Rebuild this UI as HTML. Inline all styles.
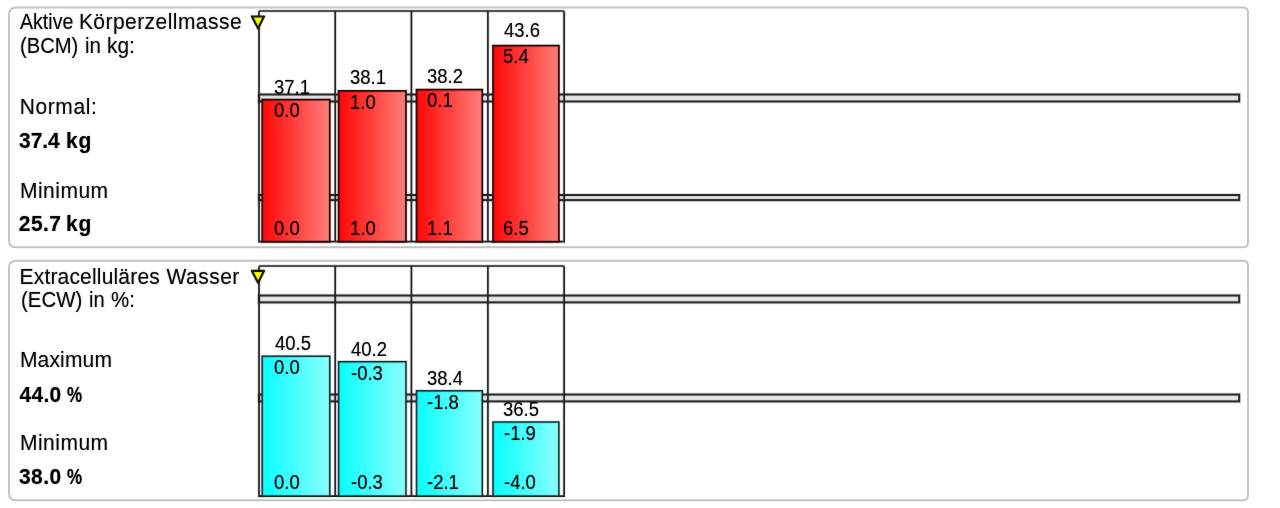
<!DOCTYPE html>
<html>
<head>
<meta charset="utf-8">
<title>BCM / ECW</title>
<style>
html,body{margin:0;padding:0;background:#fff;}
body{width:1280px;height:508px;position:relative;overflow:hidden;font-family:"Liberation Sans",sans-serif;color:#000;}
.abs{position:absolute;}
#tx{position:absolute;left:0;top:0;width:1280px;height:508px;will-change:transform;}
.t{text-shadow:0 0 1.5px rgba(0,0,0,.45);position:absolute;font-size:21px;line-height:21px;white-space:nowrap;color:#0a0a0a;transform-origin:0 0;}
.b{font-weight:bold;color:#000;}
.v{text-shadow:0 0 1.5px rgba(0,0,0,.45);position:absolute;font-size:19px;line-height:19px;white-space:nowrap;color:#080808;transform-origin:0 0;}
</style>
</head>
<body>
<svg class="abs" style="left:0;top:0;" width="1280" height="508" viewBox="0 0 1280 508">
<defs><linearGradient id="gr" x1="0" x2="1" y1="0" y2="0"><stop offset="0" stop-color="#ff0606"/><stop offset="1" stop-color="#ff7e78"/></linearGradient><linearGradient id="gc" x1="0" x2="1" y1="0" y2="0"><stop offset="0" stop-color="#06fffe"/><stop offset="1" stop-color="#8afffd"/></linearGradient></defs>
<path d="M16.0 7.5 L1243.0 7.5 Q1248.0 7.5 1248.0 12.5 L1248.0 242.2 Q1248.0 247.2 1243.0 247.2 L16.0 247.2 Q9.0 247.2 9.0 240.2 L9.0 14.5 Q9.0 7.5 16.0 7.5 Z" fill="#fff" stroke="#c4c4c4" stroke-width="1.9"/>
<path d="M16.0 260.7 L1243.0 260.7 Q1248.0 260.7 1248.0 265.7 L1248.0 495.3 Q1248.0 500.3 1243.0 500.3 L16.0 500.3 Q9.0 500.3 9.0 493.3 L9.0 267.7 Q9.0 260.7 16.0 260.7 Z" fill="#fff" stroke="#c4c4c4" stroke-width="1.9"/>
<rect x="259" y="94.5" width="980.2" height="7.0" fill="#e7e7e7" stroke="#000" stroke-opacity="0.13" stroke-width="3.8"/>
<rect x="259" y="94.5" width="980.2" height="7.0" fill="none" stroke="#2c2c2c" stroke-width="2.0"/>
<rect x="259" y="195.0" width="980.2" height="5.1" fill="#e7e7e7" stroke="#000" stroke-opacity="0.13" stroke-width="3.8"/>
<rect x="259" y="195.0" width="980.2" height="5.1" fill="none" stroke="#2c2c2c" stroke-width="2.0"/>
<path d="M259.0 241.7 L259.0 12.2 Q259.0 11.0 260.2 11.0 L562.9 11.0 Q564.1 11.0 564.1 12.2 L564.1 241.7 Z" fill="none" stroke="#000" stroke-opacity="0.13" stroke-width="3.5"/>
<path d="M259.0 241.7 L259.0 12.2 Q259.0 11.0 260.2 11.0 L562.9 11.0 Q564.1 11.0 564.1 12.2 L564.1 241.7 Z" fill="none" stroke="#262626" stroke-width="1.7"/>
<line x1="335.2" y1="11.0" x2="335.2" y2="241.7" fill="none" stroke="#000" stroke-opacity="0.13" stroke-width="3.5"/>
<line x1="335.2" y1="11.0" x2="335.2" y2="241.7" fill="none" stroke="#262626" stroke-width="1.7"/>
<line x1="411.4" y1="11.0" x2="411.4" y2="241.7" fill="none" stroke="#000" stroke-opacity="0.13" stroke-width="3.5"/>
<line x1="411.4" y1="11.0" x2="411.4" y2="241.7" fill="none" stroke="#262626" stroke-width="1.7"/>
<line x1="487.9" y1="11.0" x2="487.9" y2="241.7" fill="none" stroke="#000" stroke-opacity="0.13" stroke-width="3.5"/>
<line x1="487.9" y1="11.0" x2="487.9" y2="241.7" fill="none" stroke="#262626" stroke-width="1.7"/>
<rect x="262.2" y="99.6" width="67.6" height="142.1" fill="url(#gr)" stroke="#000" stroke-opacity="0.13" stroke-width="3.45"/>
<rect x="262.2" y="99.6" width="67.6" height="142.1" fill="none" stroke="#2a0202" stroke-width="1.65"/>
<rect x="338.6" y="90.9" width="67.4" height="150.8" fill="url(#gr)" stroke="#000" stroke-opacity="0.13" stroke-width="3.45"/>
<rect x="338.6" y="90.9" width="67.4" height="150.8" fill="none" stroke="#2a0202" stroke-width="1.65"/>
<rect x="416.5" y="89.6" width="65.8" height="152.1" fill="url(#gr)" stroke="#000" stroke-opacity="0.13" stroke-width="3.45"/>
<rect x="416.5" y="89.6" width="65.8" height="152.1" fill="none" stroke="#2a0202" stroke-width="1.65"/>
<rect x="493.0" y="45.6" width="65.9" height="196.1" fill="url(#gr)" stroke="#000" stroke-opacity="0.13" stroke-width="3.45"/>
<rect x="493.0" y="45.6" width="65.9" height="196.1" fill="none" stroke="#2a0202" stroke-width="1.65"/>
<path d="M251.9 16.5 L264.0 16.5 L258.1 28.4 Z" stroke-linejoin="round" fill="#ffff00" stroke="#000" stroke-opacity="0.13" stroke-width="3.9000000000000004"/>
<path d="M251.9 16.5 L264.0 16.5 L258.1 28.4 Z" stroke-linejoin="round" fill="none" stroke="#1c1c00" stroke-width="2.1"/>
<rect x="259" y="295.5" width="980.2" height="6.9" fill="#e7e7e7" stroke="#000" stroke-opacity="0.13" stroke-width="3.8"/>
<rect x="259" y="295.5" width="980.2" height="6.9" fill="none" stroke="#2c2c2c" stroke-width="2.0"/>
<rect x="259" y="394.5" width="980.2" height="6.9" fill="#e7e7e7" stroke="#000" stroke-opacity="0.13" stroke-width="3.8"/>
<rect x="259" y="394.5" width="980.2" height="6.9" fill="none" stroke="#2c2c2c" stroke-width="2.0"/>
<path d="M259.0 496.1 L259.0 267.2 Q259.0 266.0 260.2 266.0 L562.9 266.0 Q564.1 266.0 564.1 267.2 L564.1 496.1 Z" fill="none" stroke="#000" stroke-opacity="0.13" stroke-width="3.5"/>
<path d="M259.0 496.1 L259.0 267.2 Q259.0 266.0 260.2 266.0 L562.9 266.0 Q564.1 266.0 564.1 267.2 L564.1 496.1 Z" fill="none" stroke="#262626" stroke-width="1.7"/>
<line x1="335.2" y1="266.0" x2="335.2" y2="496.1" fill="none" stroke="#000" stroke-opacity="0.13" stroke-width="3.5"/>
<line x1="335.2" y1="266.0" x2="335.2" y2="496.1" fill="none" stroke="#262626" stroke-width="1.7"/>
<line x1="411.4" y1="266.0" x2="411.4" y2="496.1" fill="none" stroke="#000" stroke-opacity="0.13" stroke-width="3.5"/>
<line x1="411.4" y1="266.0" x2="411.4" y2="496.1" fill="none" stroke="#262626" stroke-width="1.7"/>
<line x1="487.9" y1="266.0" x2="487.9" y2="496.1" fill="none" stroke="#000" stroke-opacity="0.13" stroke-width="3.5"/>
<line x1="487.9" y1="266.0" x2="487.9" y2="496.1" fill="none" stroke="#262626" stroke-width="1.7"/>
<rect x="262.2" y="356.2" width="67.6" height="139.9" fill="url(#gc)" stroke="#000" stroke-opacity="0.13" stroke-width="3.3"/>
<rect x="262.2" y="356.2" width="67.6" height="139.9" fill="none" stroke="#0c3232" stroke-width="1.5"/>
<rect x="338.6" y="361.7" width="67.4" height="134.4" fill="url(#gc)" stroke="#000" stroke-opacity="0.13" stroke-width="3.3"/>
<rect x="338.6" y="361.7" width="67.4" height="134.4" fill="none" stroke="#0c3232" stroke-width="1.5"/>
<rect x="416.5" y="390.8" width="65.8" height="105.3" fill="url(#gc)" stroke="#000" stroke-opacity="0.13" stroke-width="3.3"/>
<rect x="416.5" y="390.8" width="65.8" height="105.3" fill="none" stroke="#0c3232" stroke-width="1.5"/>
<rect x="493.0" y="422.0" width="65.9" height="74.1" fill="url(#gc)" stroke="#000" stroke-opacity="0.13" stroke-width="3.3"/>
<rect x="493.0" y="422.0" width="65.9" height="74.1" fill="none" stroke="#0c3232" stroke-width="1.5"/>
<path d="M251.9 270.9 L264.0 270.9 L258.1 282.79999999999995 Z" stroke-linejoin="round" fill="#ffff00" stroke="#000" stroke-opacity="0.13" stroke-width="3.9000000000000004"/>
<path d="M251.9 270.9 L264.0 270.9 L258.1 282.79999999999995 Z" stroke-linejoin="round" fill="none" stroke="#1c1c00" stroke-width="2.1"/>
</svg>
<div id="tx">
<div class="t" style="left:19.90px;top:10.37px;transform:scale(0.933,1.030);">Aktive</div>
<div class="t" style="left:78.88px;top:10.37px;letter-spacing:0.45px;transform:scale(1.000,1.030);">Körperzellmasse</div>
<div class="t" style="left:20.34px;top:33.87px;transform:scale(0.962,1.030);">(BCM)</div>
<div class="t" style="left:85.03px;top:33.87px;transform:scale(0.974,1.030);">in</div>
<div class="t" style="left:107.21px;top:33.87px;transform:scale(0.993,1.030);">kg:</div>
<div class="t" style="left:19.78px;top:95.47px;letter-spacing:0.59px;transform:scale(1.000,1.030);">Normal:</div>
<div class="t b" style="left:19.16px;top:127.91px;transform:scale(0.996,1.090);">37.4</div>
<div class="t b" style="left:66.10px;top:127.91px;letter-spacing:0.65px;transform:scale(1.000,1.090);">kg</div>
<div class="t" style="left:19.98px;top:178.87px;letter-spacing:0.49px;transform:scale(1.000,1.030);">Minimum</div>
<div class="t b" style="left:18.86px;top:210.81px;letter-spacing:0.38px;transform:scale(1.000,1.090);">25.7</div>
<div class="t b" style="left:66.10px;top:210.81px;letter-spacing:0.65px;transform:scale(1.000,1.090);">kg</div>
<div class="t" style="left:19.53px;top:264.57px;letter-spacing:0.18px;transform:scale(1.000,1.030);">Extracelluläres</div>
<div class="t" style="left:166.60px;top:264.57px;letter-spacing:0.47px;transform:scale(1.000,1.030);">Wasser</div>
<div class="t" style="left:20.63px;top:287.77px;transform:scale(0.972,1.030);">(ECW)</div>
<div class="t" style="left:88.74px;top:287.77px;transform:scale(0.960,1.030);">in</div>
<div class="t" style="left:111.42px;top:287.77px;transform:scale(0.973,1.030);">%:</div>
<div class="t" style="left:19.98px;top:348.37px;letter-spacing:0.15px;transform:scale(1.000,1.030);">Maximum</div>
<div class="t b" style="left:19.40px;top:382.01px;letter-spacing:0.33px;transform:scale(1.000,1.090);">44.0</div>
<div class="t b" style="left:66.65px;top:382.01px;transform:scale(0.810,1.090);">%</div>
<div class="t" style="left:19.98px;top:431.37px;letter-spacing:0.49px;transform:scale(1.000,1.030);">Minimum</div>
<div class="t b" style="left:18.96px;top:464.31px;letter-spacing:0.41px;transform:scale(1.000,1.090);">38.0</div>
<div class="t b" style="left:66.65px;top:464.31px;transform:scale(0.810,1.090);">%</div>
<div class="v" style="left:273.89px;top:77.51px;transform:scale(0.972,1.020);">37.1</div>
<div class="v" style="left:274.05px;top:101.21px;transform:scale(0.972,1.020);">0.0</div>
<div class="v" style="left:274.05px;top:219.16px;transform:scale(0.972,1.020);">0.0</div>
<div class="v" style="left:350.39px;top:68.41px;transform:scale(0.972,1.020);">38.1</div>
<div class="v" style="left:350.33px;top:92.51px;transform:scale(0.972,1.020);">1.0</div>
<div class="v" style="left:350.33px;top:219.16px;transform:scale(0.972,1.020);">1.0</div>
<div class="v" style="left:426.69px;top:67.21px;transform:scale(0.972,1.020);">38.2</div>
<div class="v" style="left:426.85px;top:91.21px;transform:scale(0.972,1.020);">0.1</div>
<div class="v" style="left:426.63px;top:219.16px;transform:scale(0.972,1.020);">1.1</div>
<div class="v" style="left:504.00px;top:21.41px;transform:scale(0.972,1.020);">43.6</div>
<div class="v" style="left:503.09px;top:47.21px;transform:scale(0.972,1.020);">5.4</div>
<div class="v" style="left:503.04px;top:219.16px;transform:scale(0.972,1.020);">6.5</div>
<div class="v" style="left:274.80px;top:334.41px;transform:scale(0.972,1.020);">40.5</div>
<div class="v" style="left:274.05px;top:358.21px;transform:scale(0.972,1.020);">0.0</div>
<div class="v" style="left:274.05px;top:472.66px;transform:scale(0.972,1.020);">0.0</div>
<div class="v" style="left:351.30px;top:339.91px;transform:scale(0.972,1.020);">40.2</div>
<div class="v" style="left:351.18px;top:363.71px;transform:scale(0.972,1.020);">-0.3</div>
<div class="v" style="left:351.18px;top:472.66px;transform:scale(0.972,1.020);">-0.3</div>
<div class="v" style="left:426.69px;top:369.01px;transform:scale(0.972,1.020);">38.4</div>
<div class="v" style="left:427.48px;top:392.81px;transform:scale(0.972,1.020);">-1.8</div>
<div class="v" style="left:427.48px;top:472.66px;transform:scale(0.972,1.020);">-2.1</div>
<div class="v" style="left:503.09px;top:400.21px;transform:scale(0.972,1.020);">36.5</div>
<div class="v" style="left:503.88px;top:424.01px;transform:scale(0.972,1.020);">-1.9</div>
<div class="v" style="left:503.88px;top:472.66px;transform:scale(0.972,1.020);">-4.0</div>
</div>
</body>
</html>
